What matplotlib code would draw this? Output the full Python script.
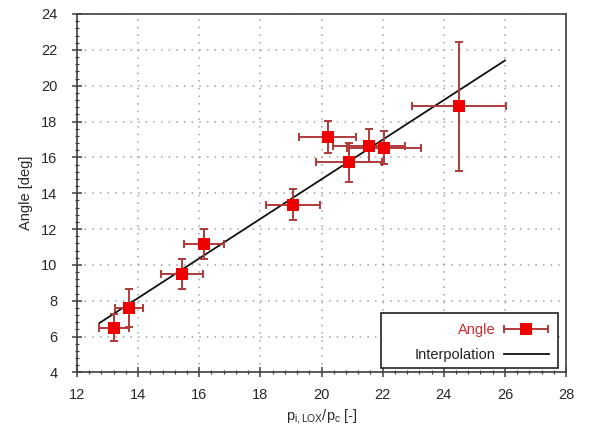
import matplotlib
matplotlib.use("Agg")
import matplotlib.pyplot as plt
from matplotlib.ticker import MultipleLocator
from matplotlib.legend_handler import HandlerErrorbar
from matplotlib.patches import Rectangle
import numpy as np

plt.rcParams['font.family'] = ['Liberation Sans', 'DejaVu Sans']
plt.rcParams['mathtext.fontset'] = 'custom'
plt.rcParams['mathtext.rm'] = 'Liberation Sans'
plt.rcParams['mathtext.it'] = 'Liberation Sans'

# Measured injection pressure ratio and spray angle with uncertainties
pressure_ratio = [13.21, 13.70, 15.44, 16.15, 19.07, 20.20, 20.90, 21.55, 22.04, 24.50]
ratio_err = [0.49, 0.47, 0.69, 0.65, 0.88, 0.93, 1.07, 1.17, 1.20, 1.53]
angle = [6.50, 7.58, 9.48, 11.17, 13.35, 17.13, 15.73, 16.66, 16.55, 18.84]
angle_err = [0.75, 1.05, 0.85, 0.85, 0.87, 0.90, 1.10, 0.92, 0.93, 3.60]

# Linear interpolation of the angle over the pressure ratio
fit_slope = 1.104
fit_intercept = -7.30
fit_range = [12.73, 26.0]

x_ticks = [12, 14, 16, 18, 20, 22, 24, 26, 28]
y_ticks = [4, 6, 8, 10, 12, 14, 16, 18, 20, 22, 24]

fig = plt.figure(figsize=(6.08, 4.28), dpi=100)
ax = fig.add_axes([0.1266, 0.1297, 0.8044, 0.8376])

text_col = '#2a2a2a'
spine_col = '#404040'

ax.grid(True, which='major', color='#a0a0a0', linestyle=(0, (1, 4)), linewidth=1.1)
ax.set_axisbelow(True)

xf = np.array(fit_range)
ax.plot(xf, fit_slope * xf + fit_intercept, color='#111111', lw=1.3,
        label='Interpolation', zorder=2)

eb = ax.errorbar(pressure_ratio, angle, xerr=ratio_err, yerr=angle_err,
                 fmt='s', color='#ee0000', markersize=8,
                 ecolor='#b03a3a', elinewidth=1.4, capsize=2.8, capthick=1.4,
                 label='Angle', zorder=3)
eb[0].set_markeredgewidth(0)

ax.set_xlim(12, 28)
ax.set_ylim(4, 24)
ax.set_xticks(x_ticks)
ax.set_yticks(y_ticks)
ax.xaxis.set_minor_locator(MultipleLocator(0.4))
ax.yaxis.set_minor_locator(MultipleLocator(0.4))
ax.tick_params(which='major', direction='inout', length=7, width=1.1,
               color=spine_col, labelsize=10.5, labelcolor=text_col)
ax.tick_params(axis='y', which='major', pad=10.5)
ax.tick_params(axis='x', which='major', pad=8)
ax.tick_params(which='minor', direction='inout', length=3.5, width=0.9, color=spine_col)

for s in ax.spines.values():
    s.set_color(spine_col)
    s.set_linewidth(1.2)

ax.set_xlabel(r'$\mathregular{p_{i,LOX}/p_c}$ [-]', fontsize=10.5, color=text_col, labelpad=3)
ax.set_ylabel('Angle [deg]', fontsize=10.5, color=text_col, labelpad=6)

# Legend frame drawn as a separate box, entries right-aligned inside it
ax.add_patch(Rectangle((0.6217, 0.0126), 0.3619, 0.1534, transform=ax.transAxes,
                       facecolor='white', edgecolor='#222222', lw=1.2, zorder=4))

handles, labels = ax.get_legend_handles_labels()
order = [labels.index('Angle'), labels.index('Interpolation')]
leg = ax.legend([handles[i] for i in order], [labels[i] for i in order],
                loc='lower right', markerfirst=False, fontsize=10.5,
                frameon=False, borderpad=0, borderaxespad=0,
                labelspacing=0.75, handlelength=3.1, handletextpad=0.55,
                bbox_to_anchor=(0.965, 0.03),
                handler_map={type(handles[order[0]]): HandlerErrorbar(xerr_size=1.5, yerr_size=0)})
leg.set_zorder(5)
for t in leg.get_texts():
    if t.get_text() == 'Angle':
        t.set_color('#cc2a2a')
    else:
        t.set_color('#222222')

fig.savefig('out.png', dpi=100)
